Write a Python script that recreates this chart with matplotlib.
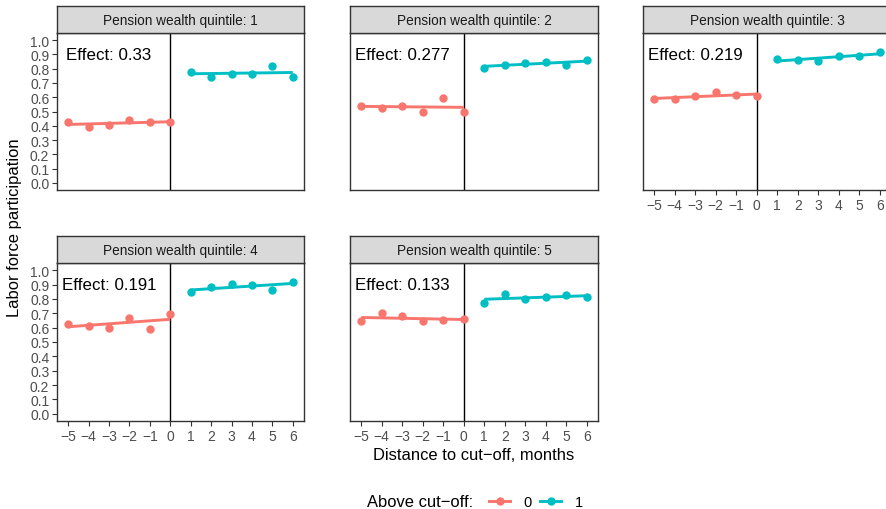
import numpy as np
import matplotlib
matplotlib.use("Agg")
import matplotlib.pyplot as plt
from matplotlib.lines import Line2D

plt.rcParams['font.family'] = ['Liberation Sans', 'DejaVu Sans']

# months relative to cut-off
x_below = np.array([-5, -4, -3, -2, -1, 0])
x_above = np.array([1, 2, 3, 4, 5, 6])

# labor force participation per quintile
lfp_below = [
    [0.426, 0.389, 0.407, 0.440, 0.426, 0.424],
    [0.539, 0.528, 0.537, 0.500, 0.593, 0.498],
    [0.588, 0.588, 0.606, 0.634, 0.616, 0.609],
    [0.623, 0.613, 0.600, 0.669, 0.593, 0.694],
    [0.644, 0.701, 0.681, 0.644, 0.650, 0.662],
]
lfp_above = [
    [0.778, 0.743, 0.764, 0.764, 0.819, 0.745],
    [0.806, 0.829, 0.843, 0.847, 0.824, 0.859],
    [0.868, 0.859, 0.854, 0.889, 0.889, 0.914],
    [0.845, 0.880, 0.903, 0.900, 0.861, 0.921],
    [0.775, 0.836, 0.796, 0.815, 0.824, 0.813],
]
effects = ["0.33", "0.277", "0.219", "0.191", "0.133"]
quintiles = [1, 2, 3, 4, 5]

red = "#F8766D"
teal = "#00BFC4"
dark = "#333333"
ticklab = "#4D4D4D"

W, H = 886, 510
fig = plt.figure(figsize=(W / 100, H / 100), dpi=100)

def rect(x0, y0, x1, y1):
    # pixel box (top-left origin) -> figure fraction
    return [x0 / W, 1 - y1 / H, (x1 - x0) / W, (y1 - y0) / H]

cols = [(57, 304), (350, 598), (643, 891)]
rows = [(7, 34, 191), (237, 264, 422)]

for i, q in enumerate(quintiles):
    r, c = divmod(i, 3)
    x0, x1 = cols[c]
    s0, p0, p1 = rows[r]

    ax = fig.add_axes(rect(x0, p0, x1, p1))
    ax.axvline(0, color="black", lw=1.0, zorder=1)

    for xs, ys, col in [(x_below, lfp_below[i], red), (x_above, lfp_above[i], teal)]:
        b, a = np.polyfit(xs, ys, 1)
        ax.plot(xs, a + b * xs, color=col, lw=2.1, zorder=2, solid_capstyle="butt")
        ax.plot(xs, ys, "o", color=col, ms=5, zorder=3)

    ax.text(-3, 0.9, "Effect: " + effects[i], ha="center", va="center", fontsize=12.2, color="black")

    ax.set_xlim(-5.55, 6.55)
    ax.set_ylim(-0.05, 1.05)
    ax.set_xticks(range(-5, 7))
    ax.set_yticks(np.arange(0, 1.01, 0.1))
    ax.set_xticklabels([str(v).replace("-", "\u2212") for v in range(-5, 7)])
    ax.set_yticklabels(["%.1f" % v for v in np.arange(0, 1.01, 0.1)])
    ax.tick_params(direction="out", length=3.5, width=0.8, color=dark,
                   labelcolor=ticklab, labelsize=10, pad=2)
    for sp in ax.spines.values():
        sp.set_color(dark)
        sp.set_linewidth(1.0)

    show_x = (r == 1) or (c == 2)
    show_y = (c == 0)
    if not show_x:
        ax.tick_params(axis="x", length=0, labelbottom=False)
    if not show_y:
        ax.tick_params(axis="y", length=0, labelleft=False)

    # facet strip
    sax = fig.add_axes(rect(x0, s0, x1, p0))
    sax.set_facecolor("#D9D9D9")
    sax.set_xticks([])
    sax.set_yticks([])
    for sp in sax.spines.values():
        sp.set_color(dark)
        sp.set_linewidth(1.0)
    sax.text(0.5, 0.5, "Pension wealth quintile: %d" % q, ha="center", va="center",
             fontsize=9.8, color="#1A1A1A", transform=sax.transAxes)

fig.text(15 / W, 1 - 228 / H, "Labor force participation", rotation=90,
         ha="center", va="center", fontsize=11.9)
fig.text(474 / W, 1 - 455 / H, "Distance to cut\u2212off, months",
         ha="center", va="center", fontsize=11.9)

# legend: title as text, keys as a legend next to it
fig.text(473 / W, 1 - 503 / H, "Above cut\u2212off:", ha="right", va="center", fontsize=11.9)
handles = [Line2D([], [], color=red, lw=2.1, marker="o", ms=5),
           Line2D([], [], color=teal, lw=2.1, marker="o", ms=5)]
fig.legend(handles, ["0", "1"], loc="center left", bbox_to_anchor=(489 / W, 1 - 503 / H),
           ncol=2, frameon=False, fontsize=10.5, handlelength=1.45,
           handletextpad=0.9, columnspacing=0.6, borderpad=0, borderaxespad=0)

fig.savefig("out.png", dpi=100)
